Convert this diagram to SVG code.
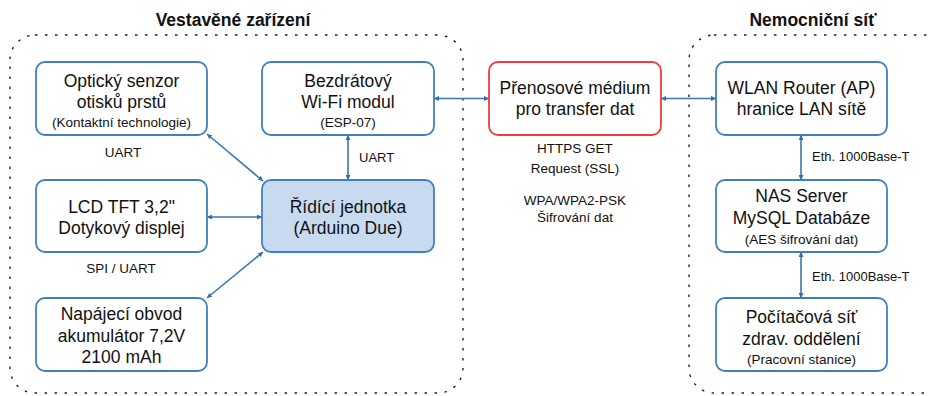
<svg xmlns="http://www.w3.org/2000/svg" width="930" height="396" viewBox="0 0 930 396">
<defs>
<marker id="ah" viewBox="0 0 10 10" refX="10" refY="5" markerWidth="5" markerHeight="5" orient="auto-start-reverse" markerUnits="userSpaceOnUse">
<path d="M0,0 L10,5 L0,10 z" fill="#2f6ea8"/>
</marker>
<style>
.cont{fill:none;stroke:#222;stroke-width:1.4;stroke-dasharray:2.5 7.5}
.box{fill:#fff;stroke:#4280bd;stroke-width:1.8}
.ctl{fill:#c8daf0;stroke:#4280bd;stroke-width:1.8}
.red{fill:#fff;stroke:#f03c3c;stroke-width:1.8}
.t{font-family:"Liberation Sans",Arial,sans-serif;font-size:17.5px;fill:#111;text-anchor:middle}
.s{font-family:"Liberation Sans",Arial,sans-serif;font-size:13.5px;fill:#111;text-anchor:middle}
.l{font-family:"Liberation Sans",Arial,sans-serif;font-size:13px;fill:#111}
.h{font-family:"Liberation Sans",Arial,sans-serif;font-size:17.5px;font-weight:bold;fill:#111;text-anchor:middle}
.c{stroke:#3a78b2;stroke-width:1.6;fill:none;marker-start:url(#ah);marker-end:url(#ah)}
</style>
</defs>
<rect fill="#fff" width="930" height="396"/>
<g id="container-embedded">
<rect class="cont" x="10" y="35" width="453" height="358" rx="25"/>
<text class="h" x="233" y="26">Vestavěné zařízení</text>
</g>
<g id="container-hospital">
<rect class="cont" x="689" y="35" width="262" height="358" rx="25"/>
<text class="h" x="813" y="26">Nemocniční síť</text>
</g>
<g id="connectors">
<line class="c" x1="207" y1="134" x2="263" y2="181"/>
<line class="c" x1="348" y1="135" x2="348" y2="180"/>
<line class="c" x1="207" y1="217" x2="262" y2="217"/>
<line class="c" x1="207" y1="298" x2="263" y2="252"/>
<line class="c" x1="434" y1="98.5" x2="489" y2="98.5"/>
<line class="c" x1="661" y1="98.5" x2="716" y2="98.5"/>
<line class="c" x1="801" y1="135" x2="801" y2="180"/>
<line class="c" x1="801" y1="252" x2="801" y2="298"/>
<text class="s" x="123" y="157">UART</text>
<text class="l" x="359" y="162">UART</text>
<text class="s" x="121" y="273">SPI / UART</text>
<text class="s" x="575" y="153">HTTPS GET</text>
<text class="s" x="575" y="173">Request (SSL)</text>
<text class="s" x="575" y="205">WPA/WPA2-PSK</text>
<text class="s" x="575" y="222">Šifrování dat</text>
<text class="l" x="812" y="161">Eth. 1000Base-T</text>
<text class="l" x="812" y="281">Eth. 1000Base-T</text>
</g>
<g id="n-senzor">
<rect class="box" x="36" y="62" width="171" height="73" rx="9"/>
<text class="t" x="121.5" y="87">Optický senzor</text>
<text class="t" x="121.5" y="108">otisků prstů</text>
<text class="s" x="121.5" y="127">(Kontaktní technologie)</text>
</g>
<g id="n-wifi">
<rect class="box" x="262" y="62" width="172" height="73" rx="9"/>
<text class="t" x="348" y="87">Bezdrátový</text>
<text class="t" x="348" y="108">Wi-Fi modul</text>
<text class="s" x="348" y="127">(ESP-07)</text>
</g>
<g id="n-lcd">
<rect class="box" x="36" y="180" width="171" height="72" rx="9"/>
<text class="t" x="121.5" y="213">LCD TFT 3,2"</text>
<text class="t" x="121.5" y="234">Dotykový displej</text>
</g>
<g id="n-ridici">
<rect class="ctl" x="262" y="180" width="172" height="72" rx="9"/>
<text class="t" x="348" y="213">Řídící jednotka</text>
<text class="t" x="348" y="234">(Arduino Due)</text>
</g>
<g id="n-napajeni">
<rect class="box" x="36" y="298" width="171" height="73" rx="9"/>
<text class="t" x="121.5" y="320">Napájecí obvod</text>
<text class="t" x="121.5" y="342">akumulátor 7,2V</text>
<text class="t" x="121.5" y="363">2100 mAh</text>
</g>
<g id="n-medium">
<rect class="red" x="489" y="62" width="172" height="73" rx="9"/>
<text class="t" x="575" y="94">Přenosové médium</text>
<text class="t" x="575" y="115">pro transfer dat</text>
</g>
<g id="n-router">
<rect class="box" x="716" y="62" width="171" height="73" rx="9"/>
<text class="t" x="801.5" y="94">WLAN Router (AP)</text>
<text class="t" x="801.5" y="115">hranice LAN sítě</text>
</g>
<g id="n-nas">
<rect class="box" x="716" y="180" width="171" height="72" rx="9"/>
<text class="t" x="801.5" y="202">NAS Server</text>
<text class="t" x="801.5" y="224">MySQL Databáze</text>
<text class="s" x="801.5" y="244">(AES šifrování dat)</text>
</g>
<g id="n-pc">
<rect class="box" x="716" y="298" width="171" height="73" rx="9"/>
<text class="t" x="801.5" y="323">Počítačová síť</text>
<text class="t" x="801.5" y="345">zdrav. oddělení</text>
<text class="s" x="801.5" y="364">(Pracovní stanice)</text>
</g>
</svg>
